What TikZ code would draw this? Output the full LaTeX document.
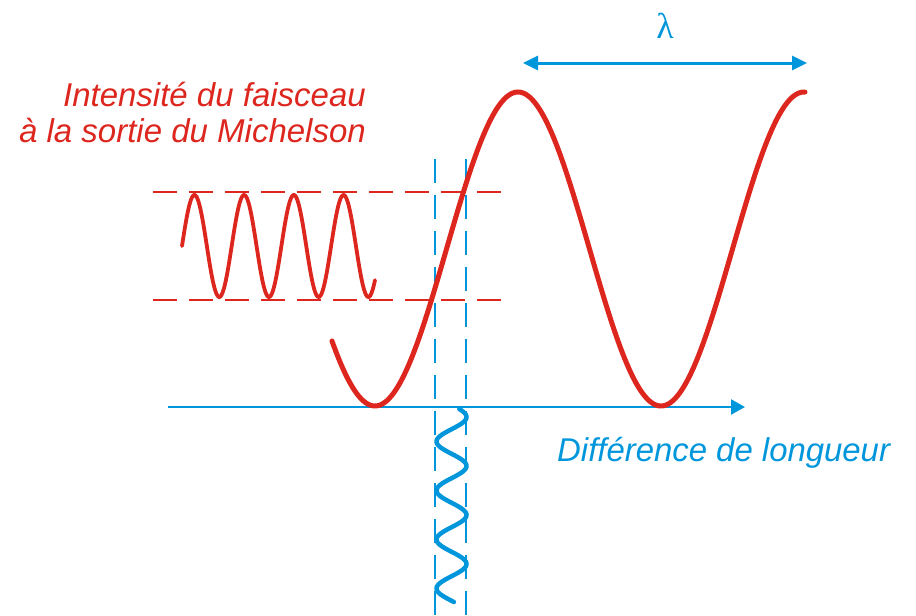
\documentclass[tikz,border=0pt]{standalone}
\usepackage{fontspec}
\setmainfont{Liberation Sans}
\newfontfamily\lamfont{Liberation Serif}
\usetikzlibrary{arrows.meta}
\definecolor{myred}{RGB}{220,38,30}
\definecolor{myblue}{RGB}{0,150,220}
\tikzset{
  redwave/.style={myred, line width=5pt, line cap=round},
  smallwave/.style={myred, line width=3.8pt, line cap=round},
  bluewave/.style={myblue, line width=4.5pt, line cap=round},
  reddash/.style={myred, line width=2.5pt, dash pattern=on 24pt off 12pt},
  bluedash/.style={myblue, line width=2.6pt, dash pattern=on 24pt off 12pt},
  axisline/.style={myblue, line width=2.2pt, -{Triangle[length=14pt,width=15pt]}},
  lamarrow/.style={myblue, line width=3pt, {Triangle[length=15pt,width=14pt]}-{Triangle[length=15pt,width=14pt]}},
  redlabel/.style={text=myred, font=\fontsize{33}{36}\selectfont\itshape, inner sep=0pt},
  bluelabel/.style={text=myblue, font=\fontsize{32.9}{36}\selectfont\itshape, inner sep=0pt},
}
\begin{document}
\begin{tikzpicture}[x=1pt,y=-1pt]
\useasboundingbox (0,0) rectangle (916,616);
% dashed guide lines
\coordinate (rd1a) at (153,192); \coordinate (rd1b) at (502,192);
\coordinate (rd2a) at (153,300); \coordinate (rd2b) at (502,300);
\draw[reddash] (rd1a) -- (rd1b);
\draw[reddash] (rd2a) -- (rd2b);
\coordinate (bd1a) at (435,159); \coordinate (bd1b) at (435,616);
\coordinate (bd2a) at (466,159); \coordinate (bd2b) at (466,616);
\draw[bluedash] (bd1a) -- (bd1b);
\draw[bluedash] (bd2a) -- (bd2b);
% axis
\coordinate (ax0) at (168,407); \coordinate (ax1) at (745,407);
\draw[axisline] (ax0) -- (ax1);
% big intensity curve
\draw[redwave] plot[domain=332:805, samples=240, smooth] (\x, {249-157*cos((\x-518)/286*360)});
% small red oscillation
\draw[smallwave] plot[domain=182:375, samples=240, smooth] (\x, {246-51*sin((\x-182)/49.7*360)});
% blue vertical oscillation
\draw[bluewave] plot[domain=409:602, samples=240, smooth] ({451.5+15*cos((\x-417)/49*360)}, \x);
% lambda arrow
\coordinate (la) at (523,63); \coordinate (lb) at (807,63);
\draw[lamarrow] (la) -- (lb);
\node[text=myblue, font=\lamfont\fontsize{36}{40}\selectfont, inner sep=0pt] (lam) at (665,26) {λ};
% labels
\node[redlabel, anchor=base east] (t1) at (366,106) {Intensité du faisceau};
\node[redlabel, anchor=base east] (t2) at (366,142) {à la sortie du Michelson};
\node[bluelabel, anchor=base west] (t3) at (557,461) {Différence de longueur};
\end{tikzpicture}
\end{document}
